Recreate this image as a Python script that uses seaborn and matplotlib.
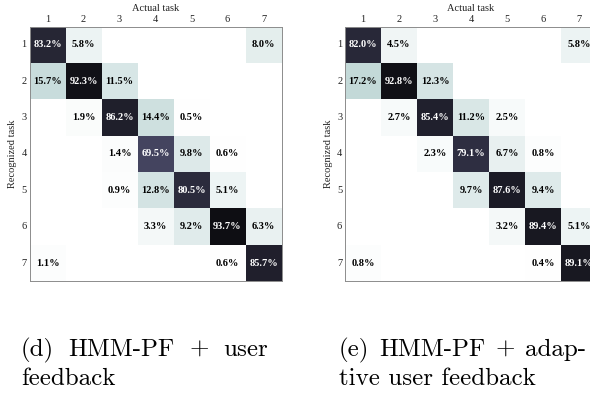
import numpy as np
import pandas as pd
import seaborn as sns
import matplotlib.pyplot as plt

sns.set_theme(style="white")
plt.rcParams["font.family"] = ["Liberation Serif", "DejaVu Serif"]

tasks = ["1", "2", "3", "4", "5", "6", "7"]

# Rows: recognized task, columns: actual task (percent of each actual task)
user_feedback = [
    [83.2, 5.8, 0.0, 0.0, 0.0, 0.0, 8.0],
    [15.7, 92.3, 11.5, 0.0, 0.0, 0.0, 0.0],
    [0.0, 1.9, 86.2, 14.4, 0.5, 0.0, 0.0],
    [0.0, 0.0, 1.4, 69.5, 9.8, 0.6, 0.0],
    [0.0, 0.0, 0.9, 12.8, 80.5, 5.1, 0.0],
    [0.0, 0.0, 0.0, 3.3, 9.2, 93.7, 6.3],
    [1.1, 0.0, 0.0, 0.0, 0.0, 0.6, 85.7],
]

adaptive_feedback = [
    [82.0, 4.5, 0.0, 0.0, 0.0, 0.0, 5.8],
    [17.2, 92.8, 12.3, 0.0, 0.0, 0.0, 0.0],
    [0.0, 2.7, 85.4, 11.2, 2.5, 0.0, 0.0],
    [0.0, 0.0, 2.3, 79.1, 6.7, 0.8, 0.0],
    [0.0, 0.0, 0.0, 9.7, 87.6, 9.4, 0.0],
    [0.0, 0.0, 0.0, 0.0, 3.2, 89.4, 5.1],
    [0.8, 0.0, 0.0, 0.0, 0.0, 0.4, 89.1],
]

captions = [
    ["(d) HMM-PF + user", "feedback"],
    ["(e) HMM-PF + adap-", "tive user feedback"],
]

W, H = 590, 393
fig = plt.figure(figsize=(W / 100, H / 100), dpi=100)
renderer = fig.canvas.get_renderer()

spine_gray = "#8c8c8c"
ax_w, ax_h = 252, 254.5
top_px = 26.7
lefts = [29.5, 345]
caption_lefts = [21, 339]
caption_width = 247
caption_size = 18


def justified_line(text, x0, width, y):
    """Spread the words of one caption line evenly across a fixed width."""
    words = text.split(" ")
    arts = [fig.text(0, 1 - y / H, w, family="cmr10", fontsize=caption_size,
                     va="baseline", ha="left", color="black") for w in words]
    widths = [a.get_window_extent(renderer).width for a in arts]
    gap = (width - sum(widths)) / (len(words) - 1)
    x = x0
    for a, w in zip(arts, widths):
        a.set_x(x / W)
        x += w + gap


for values, left, cap, cx in zip([user_feedback, adaptive_feedback], lefts,
                                 captions, caption_lefts):
    ax = fig.add_axes([left / W, 1 - (top_px + ax_h) / H, ax_w / W, ax_h / H])
    df = pd.DataFrame(values, index=tasks, columns=tasks)
    labels = df.map(lambda v: f"{v:.1f}%" if v > 0 else "")
    sns.heatmap(
        df, ax=ax, cmap="bone_r", vmin=0, vmax=100, cbar=False,
        annot=labels, fmt="", square=False,
        annot_kws=dict(fontsize=7.5, fontweight="bold",
                       family=["Liberation Serif", "DejaVu Serif"]),
    )
    for t in ax.texts:
        if t.get_color() not in ("w", "white"):
            t.set_color("black")

    ax.xaxis.tick_top()
    ax.xaxis.set_label_position("top")
    ax.tick_params(axis="both", which="both", direction="in",
                   top=True, bottom=True, left=True, right=True,
                   labeltop=True, labelbottom=False, labelleft=True,
                   labelright=False, length=3, width=0.6, color=spine_gray,
                   labelsize=7.5, pad=2, labelcolor="#222222")
    ax.tick_params(axis="y", labelrotation=0)
    ax.tick_params(axis="x", labelrotation=0)
    for s in ax.spines.values():
        s.set_visible(True)
        s.set_color(spine_gray)
        s.set_linewidth(0.7)
    ax.set_xlabel("Actual task", fontsize=7.5, color="#222222", labelpad=3)
    ax.set_ylabel("Recognized task", fontsize=7.5, color="#222222", labelpad=3)

    justified_line(cap[0], cx, caption_width, 356)
    fig.text(cx / W, 1 - 385 / H, cap[1], family="cmr10",
             fontsize=caption_size, va="baseline", ha="left", color="black")

fig.savefig("out.png", dpi=100)
